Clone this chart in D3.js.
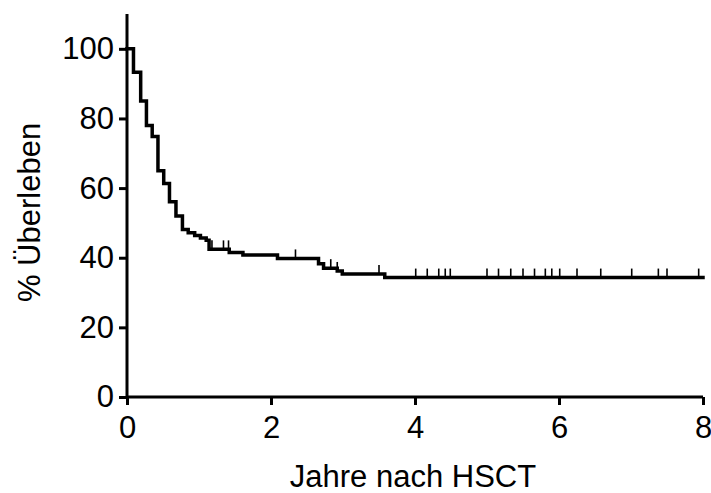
<!DOCTYPE html>
<html><head><meta charset="utf-8">
<script src="https://cdn.jsdelivr.net/npm/d3@7"></script>
<style>body{margin:0;background:#fff}svg{display:block}text{font-family:"Liberation Sans",Arial,sans-serif;fill:#000}</style>
</head><body>
<script>
// Kaplan-Meier step data: times (years) where survival drops, and new survival (%)
const stepTimes = [0, 0.09, 0.19, 0.27, 0.35, 0.43, 0.51, 0.59, 0.68, 0.77, 0.85, 0.94, 1.02, 1.10, 1.14, 1.42, 1.61, 2.09, 2.66, 2.73, 2.92, 2.99, 3.58];
const stepValues = [100, 93.3, 85.0, 78.0, 74.8, 65.0, 61.3, 56.1, 52.0, 48.1, 47.2, 46.4, 45.7, 45.0, 42.4, 41.5, 40.8, 39.8, 38.3, 37.0, 36.2, 35.3, 34.3];
const endTime = 8;
const censorTimes = [1.18, 1.34, 1.41, 2.34, 2.83, 2.92, 3.50, 4.01, 4.17, 4.33, 4.42, 4.49, 5.00, 5.16, 5.33, 5.50, 5.66, 5.81, 5.90, 6.01, 6.25, 6.58, 7.01, 7.38, 7.50, 7.94];
const xTicks = [0, 2, 4, 6, 8];
const yTicks = [0, 20, 40, 60, 80, 100];
const xTitle = "Jahre nach HSCT";
const yTitle = "% Überleben";

const W = 711, H = 493;
const svg = d3.select("body").append("svg").attr("width", W).attr("height", H);
const x = d3.scaleLinear().domain([0, 8]).range([127, 703]);
const y = d3.scaleLinear().domain([0, 110]).range([397, 14]);

function survAt(t) {
  let v = stepValues[0];
  for (let i = 0; i < stepTimes.length; i++) if (stepTimes[i] <= t) v = stepValues[i];
  return v;
}

// axes
const xAxis = svg.append("g").attr("transform", `translate(0,${y(0)})`)
  .call(d3.axisBottom(x).tickValues(xTicks).tickSize(8).tickPadding(11).tickFormat(d3.format("d")));
const yAxis = svg.append("g").attr("transform", `translate(${x(0)},0)`)
  .call(d3.axisLeft(y).tickValues(yTicks).tickSize(8).tickPadding(5).tickFormat(d3.format("d")));
[xAxis, yAxis].forEach(g => {
  g.select(".domain").attr("stroke", "#000").attr("stroke-width", 3).attr("d", null);
  g.selectAll(".tick line").attr("stroke", "#000").attr("stroke-width", 3);
  g.selectAll(".tick text").style("font-size", "31px").style("font-family", "'Liberation Sans', Arial, sans-serif");
});
xAxis.select(".domain").attr("d", `M${x(0)},0H${x(8)}`);
yAxis.select(".domain").attr("d", `M0,${y(0)}V${y(110)}`);

// curve
const pts = stepTimes.map((t, i) => [t, stepValues[i]]);
pts.push([endTime, stepValues[stepValues.length - 1]]);
const line = d3.line().x(d => x(d[0])).y(d => y(d[1])).curve(d3.curveStepAfter);
svg.append("path").datum(pts).attr("d", line).attr("fill", "none")
  .attr("stroke", "#000").attr("stroke-width", 3.5).attr("stroke-linejoin", "miter").attr("stroke-linecap", "square");

// censor marks
svg.append("g").selectAll("line").data(censorTimes).join("line")
  .attr("x1", d => x(d)).attr("x2", d => x(d))
  .attr("y1", d => y(survAt(d))).attr("y2", d => y(survAt(d)) - 9)
  .attr("stroke", "#000").attr("stroke-width", 1.6);

// titles
svg.append("text").attr("x", 413).attr("y", 487).attr("text-anchor", "middle")
  .style("font-size", "31px").text(xTitle);
svg.append("text").attr("transform", `translate(40,${y(53)}) rotate(-90)`).attr("text-anchor", "middle")
  .style("font-size", "31px").text(yTitle);
</script>
</body></html>
